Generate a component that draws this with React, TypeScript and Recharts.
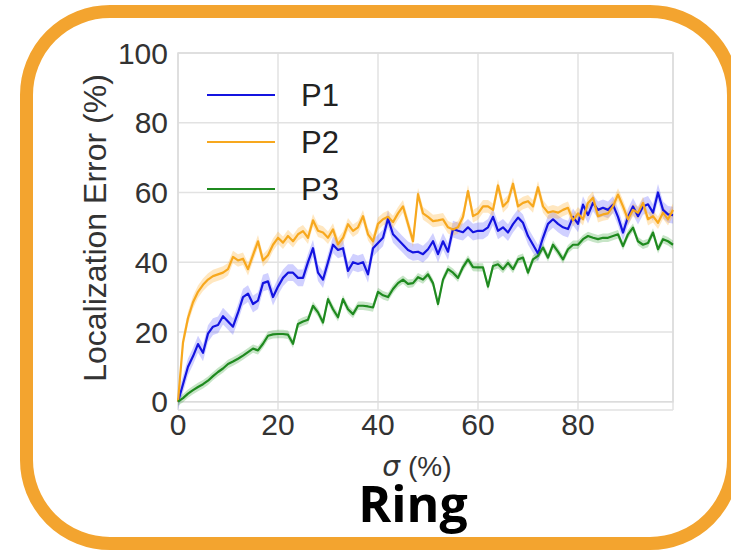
import React from 'react';
import { ComposedChart, Line, Area, XAxis, YAxis, CartesianGrid, ReferenceArea } from 'recharts';

const SIGMA = [0,1,2,3,4,5,6,7,8,9,10,11,12,13,14,15,16,17,18,19,20,21,22,23,24,25,26,27,28,29,30,31,32,33,34,35,36,37,38,39,40,41,42,43,44,45,46,47,48,49,50,51,52,53,54,55,56,57,58,59,60,61,62,63,64,65,66,67,68,69,70,71,72,73,74,75,76,77,78,79,80,81,82,83,84,85,86,87,88,89,90,91,92,93,94,95,96,97,98,99];

const P1 = [0,5,10,13,16.5,14,19.5,21.5,22,24.5,
  23,21.5,25.5,30,31,28,29,34,34.5,30,
  33,35.5,37,37,35.5,35.5,40,44,37,35,
  40,45,43.5,44,37.5,40,39.5,40,36.5,44,
  45.5,47,52.5,48,46.5,45,43.5,42.8,43,42.3,
  43.7,46,42.3,46,43,49.5,49,48.6,50,48.6,
  49,49,50,53,49,50,48.5,50.9,52.8,51.3,
  47.5,45,42.5,47,51,52.3,51,50,49.5,53,
  51,56.5,53.5,57,55,55.6,55,56.5,53,48.5,
  53,56,53.2,56,56.6,54.2,60,55,53.7,53.5];

const P2 = [0,17,24,28.5,31.5,33.5,35,36,36.5,37,
  38,41.5,40.5,41,38,42,46,40.5,42,45,
  47,45.6,47.5,46,48,48.9,47,52,49,48.5,
  47,49.4,45.1,47,50.9,49,50,53.2,48,46,
  51,52.3,53,51.5,54,56,51,46,59.5,54,
  53,51.8,52,52.3,50,49.4,50,53,60.4,53.2,
  54,56,56,55,62,56,57.5,62.5,56,57,
  57.5,56,61.5,56,54.2,54.6,54.2,55,55.6,52,
  54,52.3,57,58.5,53.2,53.7,54,56,59.4,56,
  52.3,55,54.2,57,52.3,53.2,51.3,54.2,52.3,55];

const P3 = [0,1,2.3,3.3,4.2,5,6,7.3,8.5,9.5,
  10.8,11.5,12.3,13.2,14.2,15.2,14.7,16.6,18.9,19.3,
  19.4,19.4,19.2,16.6,22.3,23,23.5,27.5,25.6,22.7,
  29.4,26.5,24.2,29.4,26.5,25.1,27.5,27.5,27.3,27,
  31.5,30.5,30,32.3,34,35,33.8,34,35.7,35,
  36.5,34,28,35,38,37,35.5,38.6,40.8,38.6,
  38.5,38.5,33,38.9,39.4,38,39.8,38,40.8,41.3,
  37,40.8,41.8,44.2,41.3,45,43,40.8,43.7,45,
  45,46.6,47.5,47,46.6,47,47,47.5,48,44.6,
  48,49.9,46,45,45.5,48.5,43.7,46.6,46,45];

const BAND = { p1: 2.4, p2: 1.8, p3: 1.2 };
const X_TICKS = [0, 20, 40, 60, 80];
const Y_TICKS = [0, 20, 40, 60, 80, 100];
const SERIES = [
  { key: 'p1', name: 'P1', color: '#1414e0', band: 'rgba(40,40,255,0.22)' },
  { key: 'p2', name: 'P2', color: '#f7a81e', band: 'rgba(255,170,30,0.28)' },
  { key: 'p3', name: 'P3', color: '#1f8a1f', band: 'rgba(30,150,30,0.25)' },
];

const data = SIGMA.map((s, i) => ({
  sigma: s,
  p1: P1[i], p2: P2[i], p3: P3[i],
  p1band: [P1[i] - BAND.p1, P1[i] + BAND.p1],
  p2band: [P2[i] - BAND.p2, P2[i] + BAND.p2],
  p3band: [P3[i] - BAND.p3, P3[i] + BAND.p3],
}));

const FONT = '"Liberation Sans", Arial, sans-serif';
const tickStyle = { fontSize: 30, fill: '#333', fontFamily: FONT };

export default function App() {
  return (
    <div style={{ position: 'absolute', left: 0, top: 0, width: 731, height: 550, overflow: 'hidden', background: '#fff' }}>
      <div style={{ position: 'absolute', left: 20, top: 5, width: 720, height: 545, border: '13px solid #F3A42F', borderRadius: 90, boxSizing: 'border-box' }} />
      <div style={{ position: 'absolute', left: 0, top: 0 }}>
        <ComposedChart width={731} height={550} data={data} margin={{ top: 53, right: 58, bottom: 110, left: 118 }}>
          <CartesianGrid stroke="#e2e2e2" strokeWidth={1.5} />
          <ReferenceArea x1={0} x2={99} y1={0} y2={100} fill="none" stroke="#dcdcdc" strokeWidth={1.5} ifOverflow="visible" />
          <XAxis type="number" dataKey="sigma" domain={[0, 99]} ticks={X_TICKS} axisLine={false} tickLine={false} tickSize={0} tickMargin={4} height={30} tick={tickStyle} interval={0} />
          <YAxis type="number" domain={[0, 100]} ticks={Y_TICKS} axisLine={false} tickLine={false} tickSize={6} tickMargin={4} width={60} tick={tickStyle} interval={0} />
          {SERIES.map((s) => (
            <Area key={s.key + 'b'} type="linear" dataKey={s.key + 'band'} stroke="none" fill={s.band} fillOpacity={1} isAnimationActive={false} dot={false} activeDot={false} />
          ))}
          {SERIES.map((s) => (
            <Line key={s.key} type="linear" dataKey={s.key} stroke={s.color} strokeWidth={2.2} dot={false} activeDot={false} isAnimationActive={false} strokeLinejoin="round" />
          ))}
        </ComposedChart>
      </div>
      <svg width={731} height={550} style={{ position: 'absolute', left: 0, top: 0, pointerEvents: 'none' }}>
        <text transform="translate(95,228) rotate(-90)" textAnchor="middle" dominantBaseline="central" fontSize={32} fill="#333" fontFamily={FONT}>Localization Error (%)</text>
        <text x={400} y={466} textAnchor="end" dominantBaseline="central" fontSize={28} fontStyle="italic" fill="#333" fontFamily='"DejaVu Sans", sans-serif'>σ</text>
        <text x={408} y={466} textAnchor="start" dominantBaseline="central" fontSize={28} fill="#333" fontFamily={FONT}>(%)</text>
        <text x={413} y={522} textAnchor="middle" fontSize={50} fontWeight={700} fill="#000" fontFamily='"Open Sans", sans-serif'>Ring</text>
        {SERIES.map((s, i) => (
          <g key={s.key}>
            <line x1={207} x2={275} y1={95 + i * 47} y2={95 + i * 47} stroke={s.color} strokeWidth={2.2} />
            <text x={301} y={95 + i * 47} dominantBaseline="central" fontSize={31} fill="#222" fontFamily={FONT}>{s.name}</text>
          </g>
        ))}
      </svg>
    </div>
  );
}
